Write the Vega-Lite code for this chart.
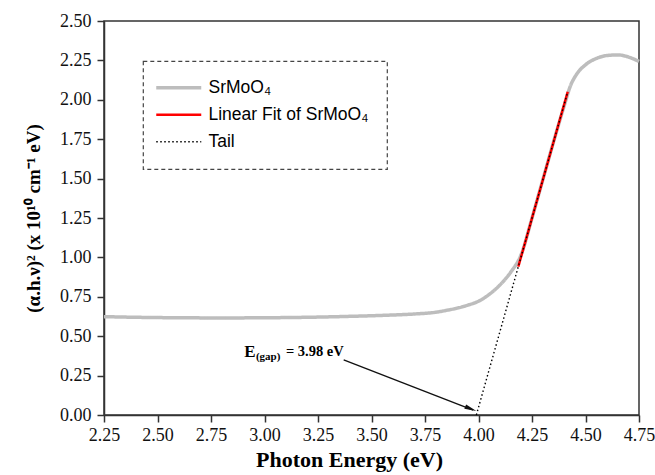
{
  "$schema": "https://vega.github.io/schema/vega-lite/v6.json",
  "width": 535,
  "height": 394,
  "autosize": {"type": "none"},
  "padding": {"left": 104, "top": 21, "right": 16, "bottom": 60},
  "background": "white",
  "config": {
    "view": {"stroke": "#333", "strokeWidth": 1.5},
    "axis": {
      "grid": false,
      "labelFlush": false,
      "labelOverlap": false,
      "domainColor": "#333",
      "domainWidth": 1.5,
      "tickColor": "#333",
      "tickWidth": 1.5,
      "tickSize": 7,
      "labelFont": "Liberation Serif",
      "labelFontSize": 18,
      "labelColor": "#111",
      "titleFont": "Liberation Serif",
      "titleFontWeight": "bold",
      "titleColor": "#000"
    },
    "legend": {
      "orient": "none",
      "legendX": 39,
      "legendY": 40,
      "padding": 18,
      "strokeColor": "#444",
      "symbolType": "M-4.5,0L4.5,0",
      "symbolSize": 100,
      "symbolOffset": 9,
      "labelOffset": 21,
      "rowPadding": 8,
      "labelFont": "Liberation Sans",
      "labelFontSize": 17.5,
      "labelColor": "#000",
      "labelLimit": 400
    }
  },
  "datasets": {
    "lines": [
      {"series": "SrMoO₄", "x": 2.25, "y": 0.624},
      {"series": "SrMoO₄", "x": 2.4, "y": 0.62},
      {"series": "SrMoO₄", "x": 2.6, "y": 0.617},
      {"series": "SrMoO₄", "x": 2.8, "y": 0.616},
      {"series": "SrMoO₄", "x": 3.0, "y": 0.617},
      {"series": "SrMoO₄", "x": 3.2, "y": 0.62},
      {"series": "SrMoO₄", "x": 3.4, "y": 0.626},
      {"series": "SrMoO₄", "x": 3.55, "y": 0.632},
      {"series": "SrMoO₄", "x": 3.7, "y": 0.641},
      {"series": "SrMoO₄", "x": 3.8, "y": 0.652},
      {"series": "SrMoO₄", "x": 3.85, "y": 0.664},
      {"series": "SrMoO₄", "x": 3.9, "y": 0.678},
      {"series": "SrMoO₄", "x": 3.95, "y": 0.697},
      {"series": "SrMoO₄", "x": 4.0, "y": 0.722},
      {"series": "SrMoO₄", "x": 4.05, "y": 0.765},
      {"series": "SrMoO₄", "x": 4.1, "y": 0.825},
      {"series": "SrMoO₄", "x": 4.15, "y": 0.905},
      {"series": "SrMoO₄", "x": 4.2, "y": 1.02},
      {"series": "SrMoO₄", "x": 4.25, "y": 1.25},
      {"series": "SrMoO₄", "x": 4.3, "y": 1.49},
      {"series": "SrMoO₄", "x": 4.35, "y": 1.73},
      {"series": "SrMoO₄", "x": 4.4, "y": 1.96},
      {"series": "SrMoO₄", "x": 4.43, "y": 2.09},
      {"series": "SrMoO₄", "x": 4.46, "y": 2.165},
      {"series": "SrMoO₄", "x": 4.5, "y": 2.222},
      {"series": "SrMoO₄", "x": 4.55, "y": 2.262},
      {"series": "SrMoO₄", "x": 4.6, "y": 2.281},
      {"series": "SrMoO₄", "x": 4.65, "y": 2.285},
      {"series": "SrMoO₄", "x": 4.7, "y": 2.272},
      {"series": "SrMoO₄", "x": 4.75, "y": 2.243},
      {"series": "Linear Fit of SrMoO₄", "x": 4.186, "y": 0.941},
      {"series": "Linear Fit of SrMoO₄", "x": 4.417, "y": 2.051},
      {"series": "Tail", "x": 3.99, "y": 0.0},
      {"series": "Tail", "x": 4.417, "y": 2.051}
    ]
  },
  "encoding": {
    "x": {
      "field": "x", "type": "quantitative",
      "scale": {"domain": [2.25, 4.75], "nice": false, "zero": false},
      "axis": {"title": "Photon Energy (eV)", "titleFontSize": 22, "titleX": 245, "titleAnchor": "middle", "values": [2.25, 2.5, 2.75, 3.0, 3.25, 3.5, 3.75, 4.0, 4.25, 4.5, 4.75], "format": ".2f", "labelPadding": 4, "titlePadding": 5}
    },
    "y": {
      "field": "y", "type": "quantitative",
      "scale": {"domain": [0, 2.5], "nice": false},
      "axis": {"title": "(α.h.ν)² (x 10¹⁰ cm⁻¹ eV)", "titleFontSize": 19, "titleY": 197, "titleAnchor": "middle", "values": [0, 0.25, 0.5, 0.75, 1.0, 1.25, 1.5, 1.75, 2.0, 2.25, 2.5], "format": ".2f", "labelPadding": 6, "titlePadding": 16}
    }
  },
  "layer": [
    {
      "data": {"name": "lines"},
      "transform": [{"filter": "datum.series === 'SrMoO₄'"}],
      "mark": {"type": "line", "interpolate": "monotone"},
      "encoding": {
        "color": {"field": "series", "type": "nominal", "scale": {"domain": ["SrMoO₄", "Linear Fit of SrMoO₄", "Tail"], "range": ["#bdbdbd", "#ff0000", "#000000"]}, "legend": {"title": null, "encode": {"legend": {"update": {"strokeDash": {"value": [4, 3]}, "strokeWidth": {"value": 1.2}}}}}},
        "strokeDash": {"field": "series", "type": "nominal", "scale": {"domain": ["SrMoO₄", "Linear Fit of SrMoO₄", "Tail"], "range": [[1, 0], [1, 0], [1.5, 2.5]]}, "legend": {"title": null}},
        "strokeWidth": {"field": "series", "type": "nominal", "scale": {"domain": ["SrMoO₄", "Linear Fit of SrMoO₄", "Tail"], "range": [3.5, 1.4, 1.4]}, "legend": {"title": null}}
      }
    },
    {
      "data": {"name": "lines"},
      "transform": [{"filter": "datum.series === 'Linear Fit of SrMoO₄'"}],
      "mark": {"type": "line"},
      "encoding": {
        "color": {"field": "series", "type": "nominal"},
        "strokeDash": {"field": "series", "type": "nominal"},
        "strokeWidth": {"field": "series", "type": "nominal"}
      }
    },
    {
      "data": {"name": "lines"},
      "transform": [{"filter": "datum.series === 'Tail'"}],
      "mark": {"type": "line"},
      "encoding": {
        "color": {"field": "series", "type": "nominal"},
        "strokeDash": {"field": "series", "type": "nominal"},
        "strokeWidth": {"field": "series", "type": "nominal"}
      }
    },
    {
      "data": {"values": [{"x": 3.37, "y": 0.35, "x2": 3.975, "y2": 0.031}]},
      "mark": {"type": "rule", "color": "#111", "strokeWidth": 1.4},
      "encoding": {
        "x": {"field": "x", "type": "quantitative"},
        "y": {"field": "y", "type": "quantitative"},
        "x2": {"field": "x2"},
        "y2": {"field": "y2"}
      }
    },
    {
      "data": {"values": [{"x": 3.964, "y": 0.039}]},
      "mark": {"type": "point", "shape": "M-1,-0.4L1,0L-1,0.4Z", "filled": true, "color": "#111", "size": 144, "angle": 22, "opacity": 1},
      "encoding": {
        "x": {"field": "x", "type": "quantitative"},
        "y": {"field": "y", "type": "quantitative"}
      }
    },
    {
      "data": {"values": [{"x": 2.905, "y": 0.4, "t": "E"}]},
      "mark": {"type": "text", "align": "left", "baseline": "middle", "font": "Liberation Serif", "fontWeight": "bold", "fontSize": 17, "color": "#000"},
      "encoding": {
        "x": {"field": "x", "type": "quantitative"},
        "y": {"field": "y", "type": "quantitative"},
        "text": {"field": "t"}
      }
    },
    {
      "data": {"values": [{"x": 3.1, "y": 0.4, "t": "= 3.98 eV"}]},
      "mark": {"type": "text", "align": "left", "baseline": "middle", "font": "Liberation Serif", "fontWeight": "bold", "fontSize": 14.5, "color": "#000"},
      "encoding": {
        "x": {"field": "x", "type": "quantitative"},
        "y": {"field": "y", "type": "quantitative"},
        "text": {"field": "t"}
      }
    },
    {
      "data": {"values": [{"x": 2.96, "y": 0.37, "t": "(gap)"}]},
      "mark": {"type": "text", "align": "left", "baseline": "middle", "font": "Liberation Serif", "fontWeight": "bold", "fontSize": 11, "color": "#000"},
      "encoding": {
        "x": {"field": "x", "type": "quantitative"},
        "y": {"field": "y", "type": "quantitative"},
        "text": {"field": "t"}
      }
    }
  ]
}
